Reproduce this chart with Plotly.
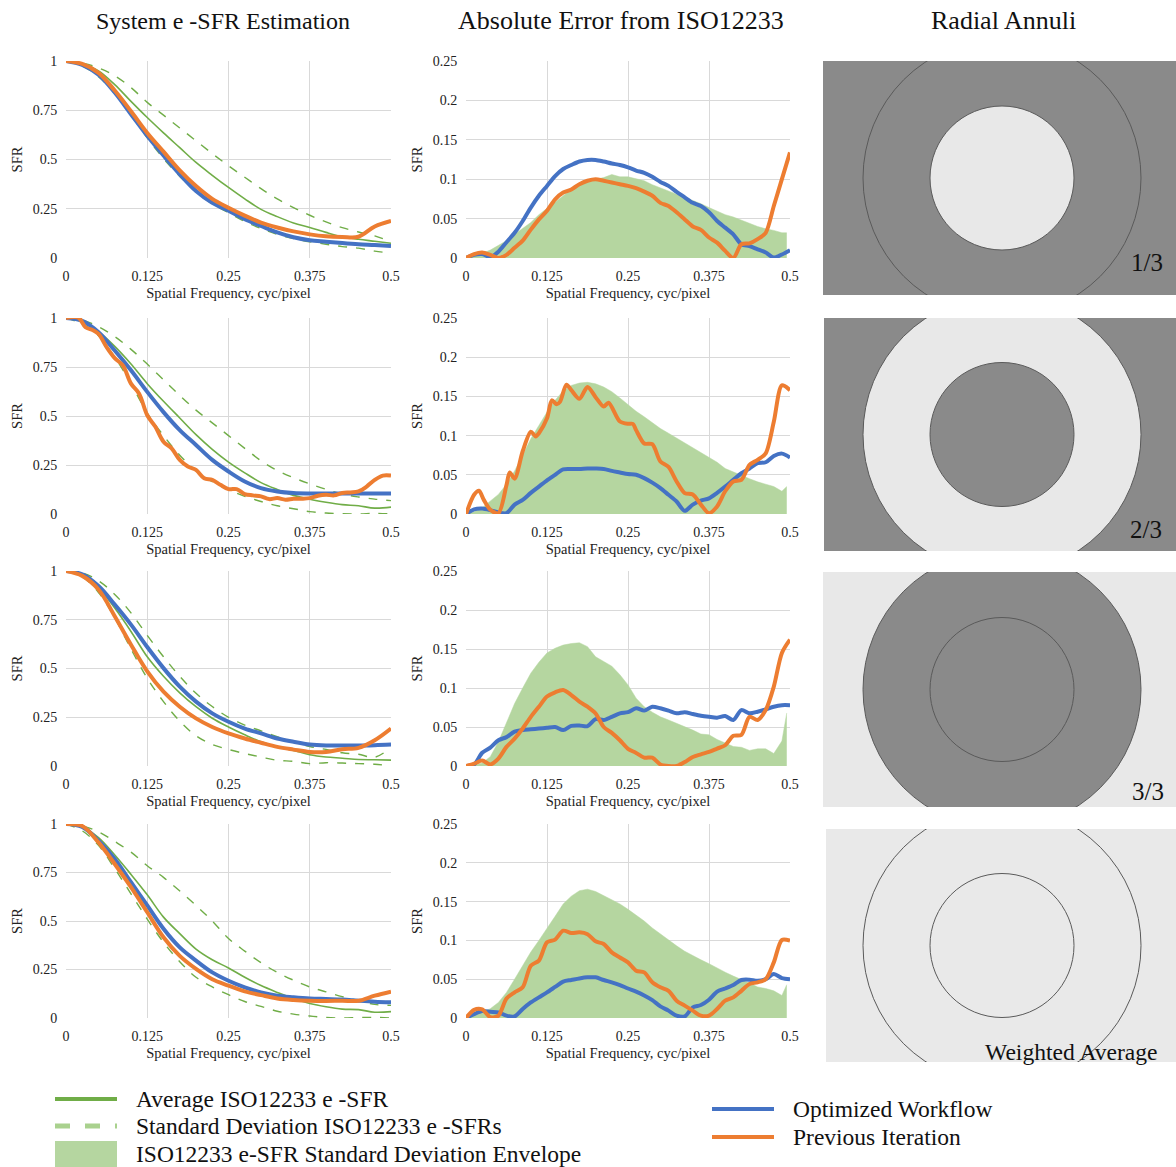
import plotly.graph_objects as go

# ---------------- data ----------------
F21 = [0, 0.025, 0.05, 0.075, 0.1, 0.125, 0.15, 0.175, 0.2, 0.225, 0.25, 0.275, 0.3,
       0.325, 0.35, 0.375, 0.4, 0.425, 0.45, 0.475, 0.5]
F41 = [0, 0.0125, 0.025, 0.0375, 0.05, 0.0625, 0.075, 0.0875, 0.1, 0.1125, 0.125, 0.1375,
       0.15, 0.1625, 0.175, 0.1875, 0.2, 0.2125, 0.225, 0.2375, 0.25, 0.2625, 0.275, 0.2875,
       0.3, 0.3125, 0.325, 0.3375, 0.35, 0.3625, 0.375, 0.3875, 0.4, 0.4125, 0.425, 0.4375,
       0.45, 0.4625, 0.475, 0.4875, 0.5]
FENV = [0, 0.0125, 0.025, 0.0375, 0.05, 0.0625, 0.075, 0.0875, 0.1, 0.1125, 0.125, 0.1375,
        0.15, 0.1625, 0.175, 0.1875, 0.2, 0.2125, 0.225, 0.2375, 0.25, 0.2625, 0.275, 0.2875,
        0.3, 0.3125, 0.325, 0.3375, 0.35, 0.3625, 0.375, 0.3875, 0.4, 0.4125, 0.425, 0.4375,
        0.45, 0.4625, 0.475, 0.4875, 0.495]

# --- left column: system e-SFR estimation ---
avg1 = [1, 0.985, 0.95, 0.88, 0.795, 0.713, 0.635, 0.56, 0.485, 0.42, 0.358, 0.3, 0.247,
        0.21, 0.178, 0.155, 0.13, 0.108, 0.095, 0.085, 0.075]
up1 = [1, 0.99, 0.965, 0.925, 0.865, 0.79, 0.725, 0.66, 0.595, 0.53, 0.468, 0.41, 0.352,
       0.3, 0.256, 0.217, 0.183, 0.154, 0.132, 0.112, 0.083]
lo1 = [1, 0.975, 0.92, 0.835, 0.725, 0.61, 0.505, 0.415, 0.335, 0.275, 0.23, 0.185, 0.15,
       0.12, 0.098, 0.082, 0.07, 0.058, 0.05, 0.035, 0.025]
opt1 = [1, 0.98, 0.93, 0.84, 0.73, 0.62, 0.52, 0.425, 0.34, 0.28, 0.24, 0.197, 0.163,
        0.13, 0.105, 0.09, 0.083, 0.076, 0.07, 0.066, 0.061]
prev1 = [1, 0.985, 0.94, 0.85, 0.745, 0.635, 0.54, 0.445, 0.365, 0.3, 0.255, 0.215, 0.18,
         0.155, 0.135, 0.12, 0.11, 0.107, 0.108, 0.16, 0.188]

avg2 = [1, 0.98, 0.93, 0.855, 0.765, 0.665, 0.575, 0.49, 0.405, 0.33, 0.265, 0.21, 0.16,
        0.125, 0.095, 0.075, 0.06, 0.048, 0.042, 0.03, 0.035]
up2 = [1, 0.99, 0.955, 0.905, 0.84, 0.765, 0.685, 0.605, 0.53, 0.465, 0.4, 0.335, 0.272,
       0.222, 0.185, 0.154, 0.126, 0.102, 0.087, 0.076, 0.068]
lo2 = [1, 0.97, 0.91, 0.8, 0.665, 0.515, 0.4, 0.3, 0.22, 0.165, 0.124, 0.09, 0.064,
       0.042, 0.027, 0.012, 0.005, 0.002, 0.0, 0.003, 0.0]
opt2 = [1, 0.985, 0.927, 0.834, 0.733, 0.623, 0.52, 0.428, 0.352, 0.276, 0.217, 0.166,
        0.132, 0.115, 0.107, 0.105, 0.105, 0.105, 0.105, 0.105, 0.105]
prev2_f = [0, 0.0125, 0.02, 0.03, 0.04, 0.05, 0.0625, 0.075, 0.0875, 0.1, 0.1125, 0.125,
           0.1375, 0.15, 0.1625, 0.175, 0.1875, 0.2, 0.2125, 0.225, 0.2375, 0.25, 0.2625,
           0.275, 0.2875, 0.3, 0.3125, 0.325, 0.3375, 0.35, 0.3625, 0.375, 0.3875, 0.4,
           0.4125, 0.425, 0.4375, 0.45, 0.4625, 0.475, 0.4875, 0.5]
prev2 = [1, 1.005, 1.0, 0.953, 0.94, 0.919, 0.851, 0.795, 0.758, 0.665, 0.614, 0.504,
         0.445, 0.369, 0.335, 0.276, 0.242, 0.225, 0.183, 0.174, 0.149, 0.127, 0.127,
         0.102, 0.095, 0.09, 0.076, 0.081, 0.073, 0.078, 0.078, 0.081, 0.093, 0.098,
         0.095, 0.107, 0.11, 0.115, 0.14, 0.174, 0.196, 0.196]

avg3 = [1, 0.98, 0.915, 0.81, 0.69, 0.56, 0.46, 0.375, 0.304, 0.245, 0.2, 0.16, 0.124,
        0.098, 0.08, 0.058, 0.046, 0.04, 0.033, 0.032, 0.03]
up3 = [1, 0.99, 0.95, 0.88, 0.785, 0.67, 0.56, 0.46, 0.373, 0.305, 0.25, 0.21, 0.18,
       0.15, 0.125, 0.1, 0.085, 0.068, 0.06, 0.045, 0.095]
lo3 = [1, 0.97, 0.89, 0.76, 0.6, 0.45, 0.33, 0.23, 0.155, 0.11, 0.085, 0.064, 0.046,
       0.029, 0.024, 0.012, 0.017, 0.015, 0.012, 0.009, 0.0]
opt3 = [1, 0.983, 0.923, 0.828, 0.725, 0.61, 0.502, 0.407, 0.33, 0.27, 0.227, 0.192,
        0.167, 0.141, 0.124, 0.11, 0.105, 0.105, 0.105, 0.107, 0.11]
prev3 = [1, 0.975, 0.905, 0.768, 0.622, 0.485, 0.381, 0.304, 0.244, 0.2, 0.167, 0.141,
         0.119, 0.098, 0.084, 0.072, 0.072, 0.086, 0.093, 0.132, 0.192]

avg4 = [1, 0.985, 0.93, 0.84, 0.74, 0.635, 0.52, 0.435, 0.355, 0.3, 0.258, 0.21, 0.167,
        0.132, 0.1, 0.075, 0.058, 0.046, 0.043, 0.03, 0.033]
up4 = [1, 0.99, 0.96, 0.91, 0.855, 0.785, 0.725, 0.655, 0.58, 0.5, 0.41, 0.345, 0.285,
       0.235, 0.195, 0.16, 0.135, 0.11, 0.09, 0.07, 0.065]
lo4 = [1, 0.965, 0.89, 0.77, 0.64, 0.51, 0.39, 0.29, 0.21, 0.16, 0.12, 0.085, 0.06,
       0.035, 0.02, 0.01, 0.003, 0.0, 0.002, 0.003, 0.0]
opt4 = [1, 0.985, 0.914, 0.82, 0.7, 0.58, 0.46, 0.364, 0.296, 0.235, 0.192, 0.158,
        0.132, 0.115, 0.107, 0.101, 0.098, 0.095, 0.089, 0.084, 0.081]
prev4 = [1, 0.99, 0.905, 0.794, 0.674, 0.545, 0.416, 0.32, 0.253, 0.2, 0.167, 0.137,
         0.118, 0.101, 0.093, 0.089, 0.088, 0.089, 0.089, 0.115, 0.136]

# --- middle column: absolute error from ISO12233 ---
env1 = [0, 0.003, 0.006, 0.01, 0.016, 0.022, 0.03, 0.038, 0.045, 0.055, 0.063, 0.072,
        0.08, 0.087, 0.093, 0.098, 0.1, 0.102, 0.106, 0.103, 0.103, 0.1, 0.098, 0.093,
        0.089, 0.086, 0.081, 0.077, 0.073, 0.069, 0.064, 0.059, 0.055, 0.052, 0.048,
        0.045, 0.04, 0.037, 0.035, 0.032, 0.032]
eopt1 = [0, 0.004, 0.005, 0.001, 0.008, 0.02, 0.032, 0.047, 0.064, 0.079, 0.0915, 0.104,
         0.113, 0.118, 0.1225, 0.1245, 0.1245, 0.1225, 0.12, 0.118, 0.115, 0.111, 0.108,
         0.103, 0.0966, 0.0915, 0.084, 0.077, 0.07, 0.066, 0.058, 0.047, 0.0385, 0.03,
         0.0174, 0.015, 0.011, 0.007, 0.0005, 0.0045, 0.01]
eprev1 = [0, 0.005, 0.007, 0.004, 0.0, 0.004, 0.013, 0.022, 0.036, 0.049, 0.06, 0.0745,
          0.083, 0.087, 0.0936, 0.098, 0.1, 0.098, 0.0958, 0.0936, 0.0915, 0.0886, 0.0843,
          0.079, 0.07, 0.066, 0.058, 0.049, 0.04, 0.0356, 0.026, 0.0195, 0.009, 0.0,
          0.0174, 0.0186, 0.024, 0.032, 0.066, 0.1, 0.134]

env2 = [0, 0.003, 0.008, 0.016, 0.025, 0.038, 0.055, 0.075, 0.096, 0.113, 0.13, 0.145,
        0.157, 0.164, 0.167, 0.168, 0.166, 0.162, 0.156, 0.148, 0.139, 0.131, 0.124,
        0.116, 0.109, 0.103, 0.097, 0.09, 0.084, 0.078, 0.073, 0.066, 0.058, 0.054, 0.05,
        0.045, 0.041, 0.038, 0.035, 0.029, 0.035]
eopt2 = [0, 0.006, 0.007, 0.005, 0.002, 0.001, 0.012, 0.018, 0.027, 0.035, 0.043, 0.05,
         0.057, 0.0575, 0.0575, 0.058, 0.058, 0.0575, 0.055, 0.053, 0.051, 0.05, 0.0457,
         0.04, 0.033, 0.0245, 0.016, 0.004, 0.012, 0.017, 0.02, 0.027, 0.035, 0.0436,
         0.052, 0.058, 0.065, 0.066, 0.074, 0.077, 0.072]
eprev2_f = [0, 0.0125, 0.02, 0.0275, 0.0375, 0.05, 0.0625, 0.0675, 0.075, 0.0875, 0.1,
            0.1075, 0.1125, 0.125, 0.1325, 0.14, 0.145, 0.155, 0.1625, 0.175, 0.1875, 0.2,
            0.2125, 0.22, 0.2375, 0.25, 0.2575, 0.2625, 0.275, 0.2875, 0.3, 0.3125, 0.325,
            0.3375, 0.35, 0.3625, 0.375, 0.3875, 0.4, 0.4125, 0.425, 0.4375, 0.45, 0.4625,
            0.475, 0.4875, 0.5]
eprev2 = [0, 0.0245, 0.0296, 0.018, 0.0055, 0.001, 0.037, 0.053, 0.045, 0.08, 0.105,
          0.099, 0.103, 0.122, 0.145, 0.14, 0.143, 0.165, 0.158, 0.147, 0.162, 0.149,
          0.137, 0.142, 0.118, 0.115, 0.115, 0.107, 0.09, 0.089, 0.067, 0.06, 0.0415,
          0.0267, 0.025, 0.012, 0.001, 0.0097, 0.029, 0.0415, 0.0436, 0.0626, 0.069,
          0.0774, 0.1176, 0.164, 0.158]

env3 = [0, 0.001, 0.004, 0.012, 0.031, 0.055, 0.08, 0.1, 0.119, 0.133, 0.145, 0.151,
        0.155, 0.157, 0.158, 0.153, 0.14, 0.134, 0.128, 0.117, 0.104, 0.087, 0.076, 0.069,
        0.063, 0.059, 0.055, 0.05, 0.046, 0.041, 0.04, 0.034, 0.029, 0.025, 0.024, 0.02,
        0.022, 0.022, 0.016, 0.032, 0.068]
eopt3 = [0, 0.002, 0.017, 0.0236, 0.033, 0.037, 0.044, 0.046, 0.047, 0.048, 0.049, 0.05,
         0.046, 0.0515, 0.052, 0.051, 0.06, 0.059, 0.063, 0.0675, 0.069, 0.074, 0.071,
         0.076, 0.074, 0.071, 0.0675, 0.069, 0.0666, 0.0644, 0.063, 0.062, 0.064, 0.059,
         0.0717, 0.0675, 0.0696, 0.0726, 0.076, 0.078, 0.078]
eprev3 = [0, 0.003, 0.007, 0.002, 0.0095, 0.0245, 0.035, 0.048, 0.063, 0.076, 0.089,
          0.0945, 0.0975, 0.091, 0.0825, 0.076, 0.0674, 0.05, 0.0425, 0.033, 0.022, 0.0168,
          0.0107, 0.0107, 0.002, 0.0, 0.0, 0.005, 0.0116, 0.015, 0.018, 0.0223, 0.0266,
          0.0387, 0.04, 0.063, 0.059, 0.0717, 0.1018, 0.145, 0.162]

env4 = [0, 0.004, 0.007, 0.012, 0.02, 0.033, 0.05, 0.067, 0.085, 0.1, 0.115, 0.131,
        0.147, 0.157, 0.164, 0.166, 0.163, 0.158, 0.153, 0.147, 0.14, 0.133, 0.125, 0.116,
        0.108, 0.1, 0.093, 0.086, 0.08, 0.075, 0.07, 0.064, 0.059, 0.054, 0.05, 0.045,
        0.04, 0.038, 0.035, 0.029, 0.043]
eopt4 = [0, 0.005, 0.009, 0.008, 0.0073, 0.003, 0.002, 0.0116, 0.02, 0.0266, 0.033, 0.04,
         0.047, 0.049, 0.051, 0.0524, 0.0524, 0.049, 0.046, 0.0425, 0.038, 0.034, 0.029,
         0.023, 0.015, 0.0095, 0.003, 0.002, 0.0137, 0.0168, 0.0236, 0.034, 0.038, 0.0425,
         0.049, 0.0494, 0.048, 0.05, 0.0567, 0.0515, 0.05]
eprev4 = [0, 0.0105, 0.011, 0.001, 0.003, 0.025, 0.033, 0.0395, 0.0674, 0.074, 0.0975,
          0.101, 0.1125, 0.1095, 0.1104, 0.108, 0.0988, 0.0954, 0.0846, 0.078, 0.0717,
          0.061, 0.0588, 0.046, 0.0395, 0.035, 0.0223, 0.0159, 0.0095, 0.003, 0.003,
          0.0116, 0.0223, 0.0266, 0.035, 0.0438, 0.046, 0.05, 0.0717, 0.1005, 0.0997]

# --- right column: radial annuli (image px units) ---
ANNULUS_LABELS = ["1/3", "2/3", "3/3", "Weighted Average"]
RADII = [139, 72]            # outer, inner
ANNULUS_FILLS = [("#8a8a8a", "#8a8a8a", "#e8e8e8"),
                 ("#8a8a8a", "#e8e8e8", "#8a8a8a"),
                 ("#e8e8e8", "#8a8a8a", "#8a8a8a"),
                 ("#e9e9e9", "#e9e9e9", "#e9e9e9")]

X_TICKS = [0, 0.125, 0.25, 0.375, 0.5]
X_TICKTEXT = ["0", "0.125", "0.25", "0.375", "0.5"]
Y1_TICKS = [0, 0.25, 0.5, 0.75, 1]
Y1_TICKTEXT = ["0", "0.25", "0.5", "0.75", "1"]
Y2_TICKS = [0, 0.05, 0.1, 0.15, 0.2, 0.25]
Y2_TICKTEXT = ["0", "0.05", "0.1", "0.15", "0.2", "0.25"]

LEFT = [(avg1, up1, lo1, F21, opt1, F21, prev1),
        (avg2, up2, lo2, F21, opt2, prev2_f, prev2),
        (avg3, up3, lo3, F21, opt3, F21, prev3),
        (avg4, up4, lo4, F21, opt4, F21, prev4)]
MID = [(env1, F41, eopt1, F41, eprev1),
       (env2, F41, eopt2, eprev2_f, eprev2),
       (env3, F41, eopt3, F41, eprev3),
       (env4, F41, eopt4, F41, eprev4)]

# ---------------- styling ----------------
W, H = 1176, 1167
FONT = "Liberation Serif, Times New Roman, DejaVu Serif, serif"
GREEN = "#70ad47"
ENV_FILL = "#b5d6a0"
BLUE = "#4472c4"
ORANGE = "#ed7d31"
GRID = "#d9d9d9"

ROWS_Y = [(61, 258), (318, 514), (571, 766), (824, 1018)]
IMG_Y = [(61, 295), (318, 551), (572, 807), (829, 1062)]
IMG_X = [(823, 1176), (824, 1176), (823, 1176), (826, 1176)]
LABEL_POS = [(0.969, 0.141), (0.966, 0.094), (0.972, 0.068), (0.954, 0.043)]
LABEL_SIZE = [25, 25, 25, 23.6]
LEFT_X = (66, 391)
MID_X = (466, 790)


def px_x(a, b):
    return [a / W, b / W]


def px_y(top, bot):
    return [1 - bot / H, 1 - top / H]


fig = go.Figure()
layout = dict(width=W, height=H, autosize=False, margin=dict(l=0, r=0, t=0, b=0, pad=0),
              paper_bgcolor="white", plot_bgcolor="white", showlegend=False,
              font=dict(family=FONT, color="#222"), template="none")
shapes = []
annotations = []

tickfont = dict(family=FONT, size=14, color="#222")
titlefont = dict(family=FONT, size=14.5, color="#222")


def axis_common():
    return dict(showgrid=True, gridcolor=GRID, gridwidth=1, zeroline=False,
                showline=False, ticks="outside", ticklen=5, automargin=False,
                tickcolor="rgba(0,0,0,0)", tickfont=tickfont, fixedrange=True)


for r in range(4):
    top, bot = ROWS_Y[r]
    n = 3 * r + 1
    xa, ya = f"x{n}", f"y{n}"
    avg, up, lo, fx, opt, pfx, prev = LEFT[r]
    fig.add_trace(go.Scatter(x=F21, y=up, xaxis=xa, yaxis=ya, mode="lines",
                             line=dict(color=GREEN, width=1.4, dash="dash", shape="spline")))
    fig.add_trace(go.Scatter(x=F21, y=lo, xaxis=xa, yaxis=ya, mode="lines",
                             line=dict(color=GREEN, width=1.4, dash="dash", shape="spline")))
    fig.add_trace(go.Scatter(x=F21, y=avg, xaxis=xa, yaxis=ya, mode="lines",
                             line=dict(color=GREEN, width=1.6, shape="spline")))
    fig.add_trace(go.Scatter(x=fx, y=opt, xaxis=xa, yaxis=ya, mode="lines",
                             line=dict(color=BLUE, width=4, shape="spline")))
    fig.add_trace(go.Scatter(x=pfx, y=prev, xaxis=xa, yaxis=ya, mode="lines",
                             line=dict(color=ORANGE, width=4, shape="spline")))
    ax = axis_common()
    ax.update(domain=px_x(*LEFT_X), anchor=ya, range=[0, 0.5], tickvals=X_TICKS,
              ticktext=X_TICKTEXT,
              title=dict(text="Spatial Frequency, cyc/pixel", font=titlefont, standoff=5))
    layout[f"xaxis{n}"] = ax
    ay = axis_common()
    ay.update(domain=px_y(top, bot), anchor=xa, range=[0, 1], tickvals=Y1_TICKS,
              ticktext=Y1_TICKTEXT,
              title=dict(text="SFR", font=titlefont, standoff=6))
    layout[f"yaxis{n}"] = ay

    n = 3 * r + 2
    xa, ya = f"x{n}", f"y{n}"
    env, ofx, eopt, pfx, eprev = MID[r]
    fig.add_trace(go.Scatter(x=FENV, y=env, xaxis=xa, yaxis=ya, mode="lines",
                             fill="tozeroy", fillcolor=ENV_FILL,
                             line=dict(color=ENV_FILL, width=0.5)))
    fig.add_trace(go.Scatter(x=ofx, y=eopt, xaxis=xa, yaxis=ya, mode="lines",
                             line=dict(color=BLUE, width=4, shape="spline", smoothing=0.8)))
    fig.add_trace(go.Scatter(x=pfx, y=eprev, xaxis=xa, yaxis=ya, mode="lines",
                             line=dict(color=ORANGE, width=4, shape="spline", smoothing=0.8)))
    ax = axis_common()
    ax.update(domain=px_x(*MID_X), anchor=ya, range=[0, 0.5], tickvals=X_TICKS,
              ticktext=X_TICKTEXT,
              title=dict(text="Spatial Frequency, cyc/pixel", font=titlefont, standoff=5))
    layout[f"xaxis{n}"] = ax
    ay = axis_common()
    ay.update(domain=px_y(top, bot), anchor=xa, range=[0, 0.25], tickvals=Y2_TICKS,
              ticktext=Y2_TICKTEXT,
              title=dict(text="SFR", font=titlefont, standoff=6))
    layout[f"yaxis{n}"] = ay

    n = 3 * r + 3
    xa, ya = f"x{n}", f"y{n}"
    itop, ibot = IMG_Y[r]
    ix0, ix1 = IMG_X[r]
    iw, ih = ix1 - ix0, ibot - itop
    layout[f"xaxis{n}"] = dict(domain=px_x(ix0, ix1), anchor=ya, range=[0, iw],
                               visible=False, fixedrange=True, automargin=False)
    layout[f"yaxis{n}"] = dict(domain=px_y(itop, ibot), anchor=xa, range=[0, ih],
                               visible=False, fixedrange=True, automargin=False)
    bg, outer, inner = ANNULUS_FILLS[r]
    cx, cy = 1002 - ix0, ih / 2
    shapes.append(dict(type="rect", xref=f"{xa} domain", yref=f"{ya} domain",
                       x0=0, x1=1, y0=0, y1=1, fillcolor=bg, line=dict(width=0),
                       layer="below"))
    for rad, col in zip(RADII, (outer, inner)):
        shapes.append(dict(type="circle", xref=xa, yref=ya,
                           x0=cx - rad, x1=cx + rad, y0=cy - rad, y1=cy + rad,
                           fillcolor=col, line=dict(color="#5a5a5a", width=1),
                           layer="below"))
    lx, ly = LABEL_POS[r]
    annotations.append(dict(text=ANNULUS_LABELS[r], xref=f"{xa} domain",
                            yref=f"{ya} domain", x=lx, y=ly, xanchor="right",
                            yanchor="middle", showarrow=False,
                            font=dict(family=FONT, size=LABEL_SIZE[r], color="#111")))

for txt, cxp, fs in [("System e -SFR Estimation", 223, 24),
                     ("Absolute Error from ISO12233", 621, 26),
                     ("Radial Annuli", 1003, 26)]:
    annotations.append(dict(text=txt, xref="paper", yref="paper", x=cxp / W,
                            y=1 - 21 / H, xanchor="center", yanchor="middle",
                            showarrow=False, font=dict(family=FONT, size=fs, color="#111")))

LEG = [("line", GREEN, 55, 117, 1099, "Average ISO12233 e -SFR", 134),
       ("dash", "#a9d18e", 55, 117, 1126, "Standard Deviation ISO12233 e -SFRs", 134),
       ("rect", ENV_FILL, 55, 117, 1154, "ISO12233 e-SFR Standard Deviation Envelope", 134),
       ("line", BLUE, 712, 774, 1109, "Optimized Workflow", 791),
       ("line", ORANGE, 712, 774, 1137, "Previous Iteration", 791)]
for kind, col, x0, x1, yc, txt, tx in LEG:
    if kind == "rect":
        shapes.append(dict(type="rect", xref="paper", yref="paper", x0=x0 / W, x1=x1 / W,
                           y0=1 - (yc + 13) / H, y1=1 - (yc - 13) / H, fillcolor=col,
                           line=dict(width=0)))
    else:
        shapes.append(dict(type="line", xref="paper", yref="paper", x0=x0 / W, x1=x1 / W,
                           y0=1 - yc / H, y1=1 - yc / H,
                           line=dict(color=col, width=4 if kind == "line" else 5,
                                     dash="solid" if kind == "line" else "dash")))
    annotations.append(dict(text=txt, xref="paper", yref="paper", x=tx / W, y=1 - yc / H,
                            xanchor="left", yanchor="middle", showarrow=False,
                            font=dict(family=FONT, size=23.5, color="#111")))

layout["shapes"] = shapes
layout["annotations"] = annotations
fig.update_layout(**layout)
fig.write_html("out.html", config={"displayModeBar": False},
               post_script="document.body.style.margin='0';"
                           "document.body.style.overflow='hidden';")
